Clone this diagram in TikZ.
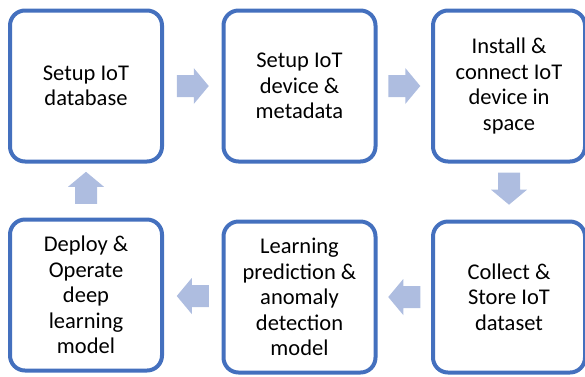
\documentclass[tikz,border=0pt]{standalone}
\usepackage{fontspec}
\setmainfont{Carlito}
\usetikzlibrary{calc}
\definecolor{boxline}{RGB}{68,112,190}
\definecolor{arrowfill}{RGB}{174,189,224}
\begin{document}
\begin{tikzpicture}[x=1pt,y=-1pt,
  stepbox/.style={draw=boxline,line width=4pt,rounded corners=15pt,fill=white,
    minimum width=152pt,minimum height=151pt,inner sep=0pt,align=center,
    font=\fontsize{22.5}{25.5}\selectfont},
  flowarrow/.pic={\fill[arrowfill] (-16,-11) -- (1,-11) -- (1,-18) -- (16,0)
    -- (1,18) -- (1,11) -- (-16,11) -- cycle;}]
\useasboundingbox (0,0) rectangle (585,376);
% top row
\node[stepbox] (b1) at (86,86) {Setup IoT\\database};
\node[stepbox] (b2) at (299.5,86) {Setup IoT\\device \&\\metadata};
\node[stepbox] (b3) at (509,86) {Install \&\\connect IoT\\device in\\space};
% bottom row
\node[stepbox] (b4) at (509,297) {Collect \&\\Store IoT\\dataset};
\node[stepbox] (b5) at (299.5,297) {Learning\\prediction \&\\anomaly\\detection\\model};
\node[stepbox] (b6) at (86,295) {Deploy \&\\Operate\\deep\\learning\\model};
% flow between steps
\pic at ($(b1.east)!0.5!(b2.west)$) {flowarrow};
\pic at ($(b2.east)!0.5!(b3.west)$) {flowarrow};
\pic[rotate=-90] at ($(b3.south)!0.45!(b4.north)$) {flowarrow};
\pic[rotate=180] at ($(b4.west)!0.5!(b5.east)$) {flowarrow};
\pic[rotate=180] at ($(b5.west)!0.5!(b6.east)$) {flowarrow};
\pic[rotate=90] at ($(b6.north)!0.55!(b1.south)$) {flowarrow};
\end{tikzpicture}
\end{document}
